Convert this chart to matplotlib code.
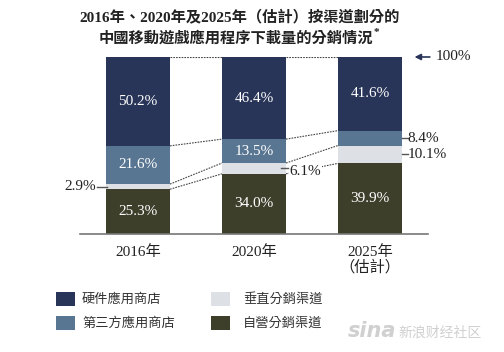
import matplotlib
matplotlib.use("Agg")
import matplotlib.pyplot as plt
from matplotlib.patches import Rectangle

# ----- data -----
years = ["2016年", "2020年", "2025年\n（估計）"]
self_run = [25.3, 34.0, 39.9]      # 自營分銷渠道
vertical = [2.9, 6.1, 10.1]        # 垂直分銷渠道
third_party = [21.6, 13.5, 8.4]    # 第三方應用商店
hardware = [50.2, 46.4, 41.6]      # 硬件應用商店
series_names = ["硬件應用商店", "第三方應用商店", "垂直分銷渠道", "自營分銷渠道"]
# -----------------

NAVY = "#283558"
STEEL = "#587592"
LIGHT = "#DDE1E5"
OLIVE = "#3E3F2B"
TXT = "#222222"

plt.rcParams['font.family'] = ['Liberation Serif', 'Noto Sans CJK TC', 'DejaVu Sans']

fig = plt.figure(figsize=(5.04, 3.52), dpi=100)
ax = fig.add_axes([80 / 504, 1 - 234 / 352, 348 / 504, 177 / 352])

x = list(range(len(years)))
w = 0.552
bottoms = [0, 0, 0]
stack = [(self_run, OLIVE), (vertical, LIGHT), (third_party, STEEL), (hardware, NAVY)]
bounds = []  # cumulative boundaries per bar
for vals, col in stack:
    ax.bar(x, vals, w, bottom=bottoms, color=col, linewidth=0, zorder=2)
    bottoms = [b + v for b, v in zip(bottoms, vals)]
    bounds.append(list(bottoms))

# white labels inside bars
for i in x:
    ax.text(i, self_run[i] / 2, f"{self_run[i]:.1f}%", color="white", ha="center", va="center", fontsize=11, zorder=3)
    lo = self_run[i] + vertical[i] + third_party[i]
    ax.text(i, lo + hardware[i] / 2, f"{hardware[i]:.1f}%", color="white", ha="center", va="center", fontsize=11, zorder=3)
for i in [0, 1]:
    lo = self_run[i] + vertical[i]
    ax.text(i, lo + third_party[i] / 2, f"{third_party[i]:.1f}%", color="white", ha="center", va="center", fontsize=11, zorder=3)

# dotted connectors between bars
for level in [self_run, bounds[1], bounds[2], bounds[3]]:
    for i in range(len(x) - 1):
        ax.plot([i + w / 2, i + 1 - w / 2], [level[i], level[i + 1]], color="#444444",
                linestyle=(0, (1.5, 1)), linewidth=0.8, zorder=1)

# side labels for thin segments
y0 = self_run[0] + vertical[0] / 2
ax.plot([-0.35, -w / 2 + 0.01], [y0, y0], color="#555555", linewidth=1, zorder=4, clip_on=False)
ax.text(-0.36, y0, f"{vertical[0]:.1f}%", ha="right", va="center", fontsize=11, color=TXT)

y1 = self_run[1] + vertical[1] / 2
ax.plot([1.233, 1.293], [y1, y1], color="#555555", linewidth=1, zorder=4, clip_on=False)
ax.text(1.305, y1 - 2, f"{vertical[1]:.1f}%", ha="left", va="center", fontsize=11, color=TXT, zorder=3,
        bbox=dict(facecolor="white", edgecolor="none", pad=0.5))

y2 = self_run[2] + vertical[2] + third_party[2] / 2
ax.plot([2 + w / 2, 2.33], [y2, y2], color="#555555", linewidth=1, clip_on=False)
ax.text(2.325, y2, f"{third_party[2]:.1f}%", ha="left", va="center", fontsize=11, color=TXT)
y3 = self_run[2] + vertical[2] / 2
ax.plot([2 + w / 2, 2.33], [y3, y3], color="#555555", linewidth=1, clip_on=False)
ax.text(2.325, y3, f"{vertical[2]:.1f}%", ha="left", va="center", fontsize=11, color=TXT)

# 100% arrow
ax.annotate("", xy=(2.36, 100), xytext=(2.54, 100), annotation_clip=False,
            arrowprops=dict(arrowstyle="-|>", color=NAVY, lw=1.2, mutation_scale=9))
ax.text(2.57, 100, "100%", ha="left", va="center", fontsize=11, color=TXT)

ax.set_xlim(-0.5, 2.5)
ax.set_ylim(0, 100)
for s in ["top", "left", "right"]:
    ax.spines[s].set_visible(False)
ax.spines["bottom"].set_color("#777777")
ax.spines["bottom"].set_linewidth(1.2)
ax.set_yticks([])
ax.set_xticks(x)
ax.set_xticklabels(years, fontsize=11, color=TXT, linespacing=1.1)
ax.tick_params(axis="x", length=0, pad=8)

# title
fig.text(0.476, 1 - 18 / 352, "2016年、2020年及2025年（估計）按渠道劃分的", ha="center", va="center",
         fontsize=11, fontweight="bold", color=TXT)
t2 = fig.text(0.468, 1 - 38 / 352, "中國移動遊戲應用程序下載量的分銷情況", ha="center", va="center",
              fontsize=11, fontweight="bold", color=TXT)
fig.get_axes()[0].annotate("*", xy=(1, 0.85), xycoords=t2, xytext=(0, 0), textcoords="offset points",
                           ha="left", va="center", fontsize=8, fontweight="bold", color=TXT,
                           annotation_clip=False)

# legend
legend_cols = [NAVY, STEEL, LIGHT, OLIVE]
key_pos = [(56, 292), (56, 316), (211, 292), (211, 316)]
txt_x = [82, 82, 243, 243]
for name, col, (kx, ky), tx in zip(series_names, legend_cols, key_pos, txt_x):
    fig.add_artist(Rectangle((kx / 504, 1 - (ky + 14) / 352), 19 / 504, 14 / 352,
                             transform=fig.transFigure, facecolor=col, edgecolor="none"))
    fig.text(tx / 504, 1 - (ky + 7.5) / 352, name, ha="left", va="center", fontsize=9.5, color="#333333")

# watermark
fig.text(0.69, 0.06, "sina", fontsize=15, fontweight="bold", style="italic", color="#d0d0d0",
         family="DejaVu Sans", ha="left", va="center")
fig.text(0.79, 0.055, "新浪财经社区", fontsize=10, color="#d0d0d0", ha="left", va="center",
         family=["Noto Sans CJK SC"])

fig.savefig("out.png", dpi=100)
